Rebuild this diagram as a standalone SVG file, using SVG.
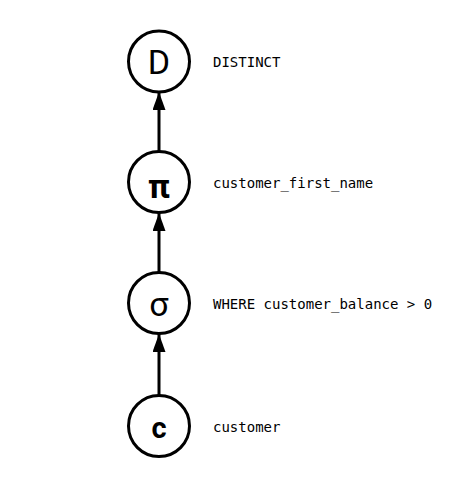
<svg xmlns="http://www.w3.org/2000/svg" width="474" height="485" viewBox="0 0 474 485">
<style>
.n{fill:#fff;stroke:#000;stroke-width:3}
.s{font-family:Roboto,"Liberation Sans",sans-serif;font-size:34px;text-anchor:middle;dominant-baseline:central;fill:#000}
.b{font-size:29px;font-weight:bold}
.l{font-family:"DejaVu Sans Mono","Liberation Mono",monospace;font-size:14px;dominant-baseline:central;fill:#000}
.e{stroke:#000;stroke-width:3;fill:none}
</style>
<defs>
<marker id="a" viewBox="0 0 18 13" refX="18" refY="6.5" markerWidth="18" markerHeight="13" markerUnits="userSpaceOnUse" orient="auto">
<path d="M0,0L18,6.5L0,13z" fill="#000"/>
</marker>
</defs>
<rect width="474" height="485" fill="#fff"/>
<g id="edges">
<line class="e" x1="159" y1="395" x2="159" y2="334" marker-end="url(#a)"/>
<line class="e" x1="159" y1="272" x2="159" y2="213" marker-end="url(#a)"/>
<line class="e" x1="159" y1="151" x2="159" y2="92" marker-end="url(#a)"/>
</g>
<g id="D">
<circle class="n" cx="159" cy="61.5" r="30.5"/>
<text class="s" x="159" y="62">D</text>
<text class="l" x="213" y="62">DISTINCT</text>
</g>
<g id="pi">
<circle class="n" cx="159" cy="182" r="30.5"/>
<text class="s" x="159" y="186" font-size="36" font-weight="bold">π</text>
<text class="l" x="213" y="183">customer_first_name</text>
</g>
<g id="sigma">
<circle class="n" cx="159" cy="303" r="30.5"/>
<text class="s" x="159" y="304" font-size="32">σ</text>
<text class="l" x="213" y="304">WHERE customer_balance &gt; 0</text>
</g>
<g id="c">
<circle class="n" cx="159" cy="426" r="30.5"/>
<text class="s b" x="159" y="428">c</text>
<text class="l" x="213" y="427">customer</text>
</g>
</svg>
